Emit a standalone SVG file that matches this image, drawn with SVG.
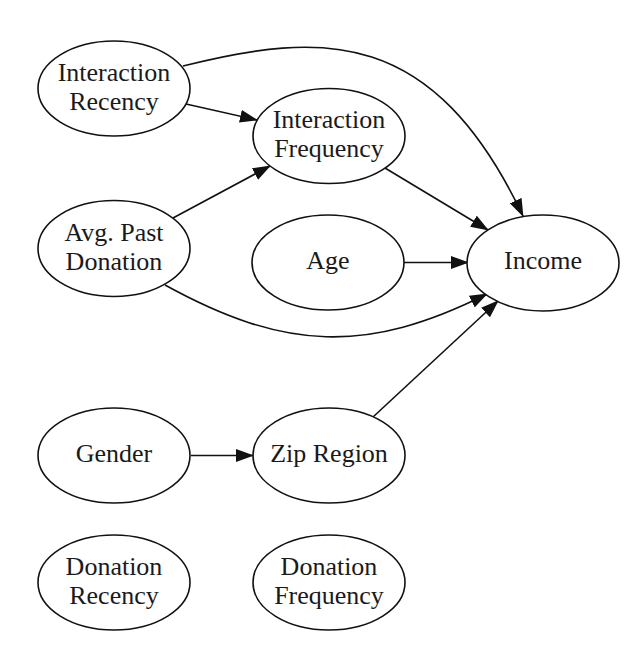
<svg xmlns="http://www.w3.org/2000/svg" width="644" height="646" viewBox="0 0 644 646">
<style>
.node ellipse{fill:#fff;stroke:#111;stroke-width:1.6}
.node text{font-family:"Liberation Serif","Times New Roman",serif;font-size:26px;fill:#1a1a1a;text-anchor:middle}
.edges path{fill:none;stroke:#111;stroke-width:1.6;marker-end:url(#ah)}
</style>
<defs>
<marker id="ah" markerUnits="userSpaceOnUse" viewBox="0 0 18 13" markerWidth="18" markerHeight="13" refX="17" refY="6.5" orient="auto">
<path d="M0,0 L18,6.5 L0,13 Z" fill="#111"/>
</marker>
</defs>
<rect width="644" height="646" fill="#fff"/>
<g class="edges" id="edges">
<path d="M186,104 L257,120"/>
<path d="M173,218 L270,166"/>
<path d="M183,66 C323,31 433,27 523,216"/>
<path d="M385,168 L488,230"/>
<path d="M404,262.5 L468,262.5"/>
<path d="M165,285 C285,351 367,354 487,294"/>
<path d="M373,417 L498,301"/>
<path d="M191,455.5 L253,455.5"/>
</g>
<g class="node" id="interaction_recency">
<ellipse cx="114" cy="88.5" rx="76" ry="47.5"/>
<text x="114" y="80.5">Interaction</text>
<text x="114" y="109.5">Recency</text>
</g>
<g class="node" id="interaction_frequency">
<ellipse cx="329" cy="136" rx="76" ry="47.5"/>
<text x="329" y="128">Interaction</text>
<text x="329" y="157">Frequency</text>
</g>
<g class="node" id="avg_past_donation">
<ellipse cx="114" cy="248.5" rx="76" ry="48"/>
<text x="114" y="240.5">Avg. Past</text>
<text x="114" y="269.5">Donation</text>
</g>
<g class="node" id="age">
<ellipse cx="328" cy="262.5" rx="76" ry="47.5"/>
<text x="328" y="268.5">Age</text>
</g>
<g class="node" id="income">
<ellipse cx="543" cy="263" rx="76" ry="48"/>
<text x="543" y="269">Income</text>
</g>
<g class="node" id="gender">
<ellipse cx="114" cy="455.5" rx="76" ry="47.5"/>
<text x="114" y="461.5">Gender</text>
</g>
<g class="node" id="zip_region">
<ellipse cx="329" cy="455.5" rx="76" ry="47.5"/>
<text x="329" y="461.5">Zip Region</text>
</g>
<g class="node" id="donation_recency">
<ellipse cx="114" cy="582.5" rx="76" ry="47.5"/>
<text x="114" y="574.5">Donation</text>
<text x="114" y="603.5">Recency</text>
</g>
<g class="node" id="donation_frequency">
<ellipse cx="329" cy="582.5" rx="76" ry="47.5"/>
<text x="329" y="574.5">Donation</text>
<text x="329" y="603.5">Frequency</text>
</g>
</svg>
